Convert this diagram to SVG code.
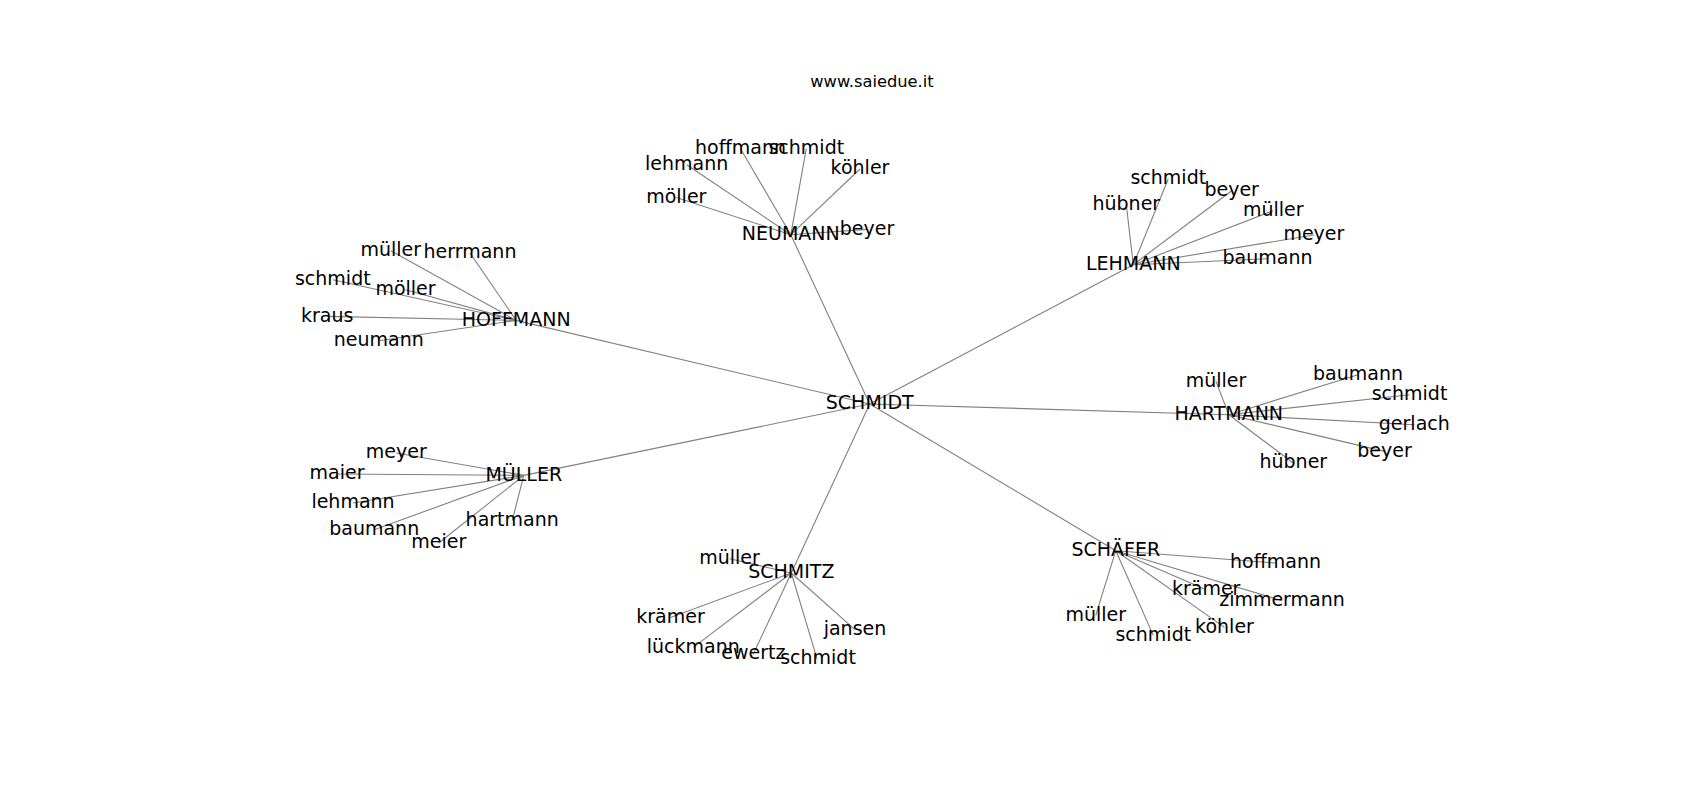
<svg xmlns="http://www.w3.org/2000/svg" width="1700" height="800" viewBox="0 0 1700 800">
<style>
.e{stroke:#808080;stroke-width:1.1;fill:none}
.n{font-family:"DejaVu Sans",sans-serif;font-size:19px;fill:#000;text-anchor:middle}
.t{font-family:"DejaVu Sans",sans-serif;font-size:16.3px;fill:#000;text-anchor:middle}
</style>
<rect width="1700" height="800" fill="#fff"/>
<text class="t" x="872" y="87.3">www.saiedue.it</text>
<g id="edges" class="e">
<line x1="869.7" y1="404" x2="516.2" y2="320.4"/>
<line x1="869.7" y1="404" x2="790.8" y2="234.7"/>
<line x1="869.7" y1="404" x2="1133.3" y2="264.7"/>
<line x1="869.7" y1="404" x2="1228.8" y2="414.7"/>
<line x1="869.7" y1="404" x2="1115.8" y2="550.7"/>
<line x1="869.7" y1="404" x2="791.3" y2="573"/>
<line x1="869.7" y1="404" x2="523.8" y2="475.4"/>
<line x1="516.2" y1="320.4" x2="390.8" y2="250.7"/>
<line x1="516.2" y1="320.4" x2="470" y2="253"/>
<line x1="516.2" y1="320.4" x2="332.8" y2="279.7"/>
<line x1="516.2" y1="320.4" x2="405.5" y2="289.7"/>
<line x1="516.2" y1="320.4" x2="327.2" y2="316.4"/>
<line x1="516.2" y1="320.4" x2="378.8" y2="340.7"/>
<line x1="790.8" y1="234.7" x2="740.5" y2="148.7"/>
<line x1="790.8" y1="234.7" x2="806.3" y2="148.7"/>
<line x1="790.8" y1="234.7" x2="686.7" y2="164.7"/>
<line x1="790.8" y1="234.7" x2="860" y2="169"/>
<line x1="790.8" y1="234.7" x2="676.3" y2="197.4"/>
<line x1="790.8" y1="234.7" x2="867" y2="229.4"/>
<line x1="1133.3" y1="264.7" x2="1168.3" y2="178.7"/>
<line x1="1133.3" y1="264.7" x2="1231.7" y2="190.7"/>
<line x1="1133.3" y1="264.7" x2="1126.3" y2="204.7"/>
<line x1="1133.3" y1="264.7" x2="1273.3" y2="210.7"/>
<line x1="1133.3" y1="264.7" x2="1313.9" y2="235"/>
<line x1="1133.3" y1="264.7" x2="1267.5" y2="258.7"/>
<line x1="1228.8" y1="414.7" x2="1216" y2="381.4"/>
<line x1="1228.8" y1="414.7" x2="1358" y2="374.7"/>
<line x1="1228.8" y1="414.7" x2="1409.5" y2="394.7"/>
<line x1="1228.8" y1="414.7" x2="1414.3" y2="424.7"/>
<line x1="1228.8" y1="414.7" x2="1384.5" y2="451.4"/>
<line x1="1228.8" y1="414.7" x2="1293.3" y2="463"/>
<line x1="1115.8" y1="550.7" x2="1275.5" y2="563"/>
<line x1="1115.8" y1="550.7" x2="1206.2" y2="589.7"/>
<line x1="1115.8" y1="550.7" x2="1282" y2="600.7"/>
<line x1="1115.8" y1="550.7" x2="1095.7" y2="615.4"/>
<line x1="1115.8" y1="550.7" x2="1224.5" y2="627.4"/>
<line x1="1115.8" y1="550.7" x2="1153.3" y2="635.4"/>
<line x1="791.3" y1="573" x2="729.5" y2="558.7"/>
<line x1="791.3" y1="573" x2="670.5" y2="617.4"/>
<line x1="791.3" y1="573" x2="855" y2="629.7"/>
<line x1="791.3" y1="573" x2="693.3" y2="647.4"/>
<line x1="791.3" y1="573" x2="753.3" y2="654"/>
<line x1="791.3" y1="573" x2="817" y2="658.7"/>
<line x1="523.8" y1="475.4" x2="396.3" y2="453"/>
<line x1="523.8" y1="475.4" x2="337" y2="474"/>
<line x1="523.8" y1="475.4" x2="353" y2="503"/>
<line x1="523.8" y1="475.4" x2="512.2" y2="520.7"/>
<line x1="523.8" y1="475.4" x2="374.2" y2="529.7"/>
<line x1="523.8" y1="475.4" x2="438.8" y2="543"/>
</g>
<g id="node-SCHMIDT"><text class="n" x="869.7" y="409.3">SCHMIDT</text></g>
<g id="node-HOFFMANN"><text class="n" x="516.2" y="325.7">HOFFMANN</text></g>
<g id="node-HOFFMANN-mueller"><text class="n" x="390.8" y="256">müller</text></g>
<g id="node-HOFFMANN-herrmann"><text class="n" x="470" y="258.3">herrmann</text></g>
<g id="node-HOFFMANN-schmidt"><text class="n" x="332.8" y="285">schmidt</text></g>
<g id="node-HOFFMANN-moeller"><text class="n" x="405.5" y="295">möller</text></g>
<g id="node-HOFFMANN-kraus"><text class="n" x="327.2" y="321.7">kraus</text></g>
<g id="node-HOFFMANN-neumann"><text class="n" x="378.8" y="346">neumann</text></g>
<g id="node-NEUMANN"><text class="n" x="790.8" y="240">NEUMANN</text></g>
<g id="node-NEUMANN-hoffmann"><text class="n" x="740.5" y="154">hoffmann</text></g>
<g id="node-NEUMANN-schmidt"><text class="n" x="806.3" y="154">schmidt</text></g>
<g id="node-NEUMANN-lehmann"><text class="n" x="686.7" y="170">lehmann</text></g>
<g id="node-NEUMANN-koehler"><text class="n" x="860" y="174.3">köhler</text></g>
<g id="node-NEUMANN-moeller"><text class="n" x="676.3" y="202.7">möller</text></g>
<g id="node-NEUMANN-beyer"><text class="n" x="867" y="234.7">beyer</text></g>
<g id="node-LEHMANN"><text class="n" x="1133.3" y="270">LEHMANN</text></g>
<g id="node-LEHMANN-schmidt"><text class="n" x="1168.3" y="184">schmidt</text></g>
<g id="node-LEHMANN-beyer"><text class="n" x="1231.7" y="196">beyer</text></g>
<g id="node-LEHMANN-huebner"><text class="n" x="1126.3" y="210">hübner</text></g>
<g id="node-LEHMANN-mueller"><text class="n" x="1273.3" y="216">müller</text></g>
<g id="node-LEHMANN-meyer"><text class="n" x="1313.9" y="240.3">meyer</text></g>
<g id="node-LEHMANN-baumann"><text class="n" x="1267.5" y="264">baumann</text></g>
<g id="node-HARTMANN"><text class="n" x="1228.8" y="420">HARTMANN</text></g>
<g id="node-HARTMANN-mueller"><text class="n" x="1216" y="386.7">müller</text></g>
<g id="node-HARTMANN-baumann"><text class="n" x="1358" y="380">baumann</text></g>
<g id="node-HARTMANN-schmidt"><text class="n" x="1409.5" y="400">schmidt</text></g>
<g id="node-HARTMANN-gerlach"><text class="n" x="1414.3" y="430">gerlach</text></g>
<g id="node-HARTMANN-beyer"><text class="n" x="1384.5" y="456.7">beyer</text></g>
<g id="node-HARTMANN-huebner"><text class="n" x="1293.3" y="468.3">hübner</text></g>
<g id="node-SCHAEFER"><text class="n" x="1115.8" y="556">SCHÄFER</text></g>
<g id="node-SCHAEFER-hoffmann"><text class="n" x="1275.5" y="568.3">hoffmann</text></g>
<g id="node-SCHAEFER-kraemer"><text class="n" x="1206.2" y="595">krämer</text></g>
<g id="node-SCHAEFER-zimmermann"><text class="n" x="1282" y="606">zimmermann</text></g>
<g id="node-SCHAEFER-mueller"><text class="n" x="1095.7" y="620.7">müller</text></g>
<g id="node-SCHAEFER-koehler"><text class="n" x="1224.5" y="632.7">köhler</text></g>
<g id="node-SCHAEFER-schmidt"><text class="n" x="1153.3" y="640.7">schmidt</text></g>
<g id="node-SCHMITZ"><text class="n" x="791.3" y="578.3">SCHMITZ</text></g>
<g id="node-SCHMITZ-mueller"><text class="n" x="729.5" y="564">müller</text></g>
<g id="node-SCHMITZ-kraemer"><text class="n" x="670.5" y="622.7">krämer</text></g>
<g id="node-SCHMITZ-jansen"><text class="n" x="855" y="635">jansen</text></g>
<g id="node-SCHMITZ-lueckmann"><text class="n" x="693.3" y="652.7">lückmann</text></g>
<g id="node-SCHMITZ-ewertz"><text class="n" x="753.3" y="659.3">ewertz</text></g>
<g id="node-SCHMITZ-schmidt"><text class="n" x="818" y="664">schmidt</text></g>
<g id="node-MUELLER"><text class="n" x="523.8" y="480.7">MÜLLER</text></g>
<g id="node-MUELLER-meyer"><text class="n" x="396.3" y="458.3">meyer</text></g>
<g id="node-MUELLER-maier"><text class="n" x="337" y="479.3">maier</text></g>
<g id="node-MUELLER-lehmann"><text class="n" x="353" y="508.3">lehmann</text></g>
<g id="node-MUELLER-hartmann"><text class="n" x="512.2" y="526">hartmann</text></g>
<g id="node-MUELLER-baumann"><text class="n" x="374.2" y="535">baumann</text></g>
<g id="node-MUELLER-meier"><text class="n" x="438.8" y="548.3">meier</text></g>
</svg>
